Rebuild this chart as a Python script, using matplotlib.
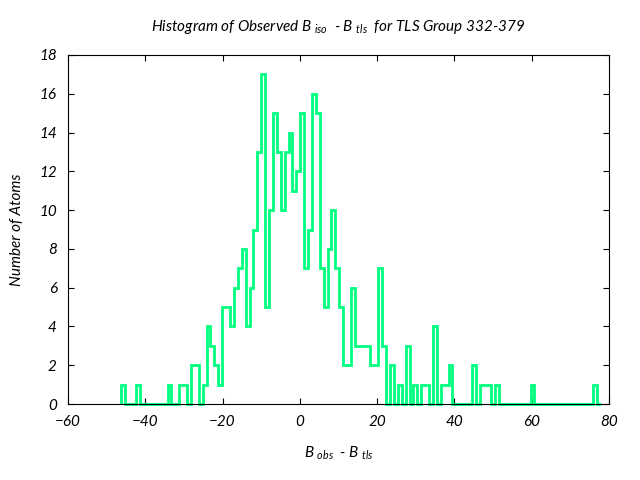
import numpy as np
import matplotlib
matplotlib.use('Agg')
import matplotlib.pyplot as plt

# histogram bins: data range split into n_bins equal bins
x_min = -46.36
x_max = 76.86
n_bins = 122
counts = [1, 0, 0, 0, 1, 0, 0, 0, 0, 0, 0, 0, 1, 0, 0,
          1, 1, 0, 2, 2, 0, 1, 4, 3, 2, 1, 5, 5, 4, 6,
          7, 8, 4, 6, 9, 13, 17, 5, 10, 15, 13, 10, 13, 14, 11,
          12, 15, 7, 9, 16, 15, 7, 5, 8, 10, 7, 5, 2, 2, 6,
          3, 3, 3, 3, 2, 2, 7, 3, 0, 2, 0, 1, 0, 3, 0,
          1, 0, 1, 1, 0, 4, 0, 1, 1, 2, 0, 0, 0, 0, 0,
          2, 0, 1, 1, 1, 0, 1, 0, 0, 0, 0, 0, 0, 0, 0,
          1, 0, 0, 0, 0, 0, 0, 0, 0, 0, 0, 0, 0, 0, 0,
          0, 1, 0]

x_ticks = [-60, -40, -20, 0, 20, 40, 60, 80]
y_ticks = [0, 2, 4, 6, 8, 10, 12, 14, 16, 18]

plt.rcParams['font.family'] = ['Lato', 'DejaVu Sans']
plt.rcParams['font.style'] = 'italic'
plt.rcParams['mathtext.fontset'] = 'custom'
plt.rcParams['mathtext.it'] = 'Lato:italic'
plt.rcParams['mathtext.rm'] = 'Lato:italic'

fig = plt.figure(figsize=(6.4, 4.8), dpi=100)
ax = fig.add_axes([68/640, (480-404)/480, (609-68)/640, (404-55)/480])

width = (x_max - x_min) / n_bins
edges = x_min + width * np.arange(len(counts) + 1)
ax.stairs(counts, edges, baseline=0, color='#00ff7f', linewidth=2.0,
          clip_on=False, zorder=2)

ax.set_xlim(-60, 80)
ax.set_ylim(0, 18)
ax.set_xticks(x_ticks)
ax.set_yticks(y_ticks)
ax.tick_params(direction='in', length=4, width=0.8, top=True, right=True,
               labelsize=11)
ax.tick_params(axis='x', pad=8)
ax.tick_params(axis='y', pad=8)
for s in ax.spines.values():
    s.set_linewidth(0.8)
    s.set_zorder(3)

ax.set_title('Histogram of Observed B $_{iso}$  - B $_{tls}$  for TLS Group 332-379',
             fontsize=11, pad=17)
ax.set_xlabel('B $_{obs}$  - B $_{tls}$', fontsize=11, labelpad=11)
ax.set_ylabel('Number of Atoms', fontsize=11, labelpad=11)

fig.savefig('out.png', dpi=100)
